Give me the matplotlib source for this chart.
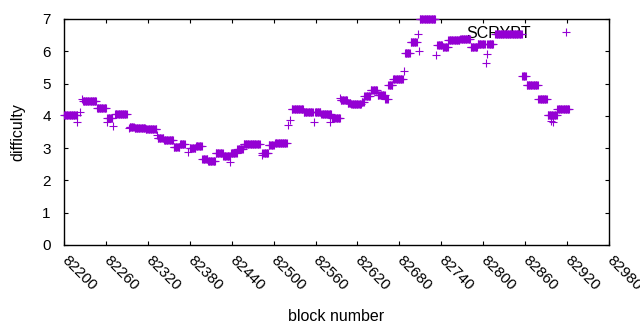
import numpy as np
import matplotlib
matplotlib.use("Agg")
import matplotlib.pyplot as plt
import matplotlib.transforms as mtransforms

plt.rcParams['font.family'] = ['Liberation Sans', 'DejaVu Sans']

# Runs of constant difficulty (first block, last block, difficulty)
run_start = [82200, 82227, 82247, 82262, 82273, 82294, 82301, 82317, 82334, 82343,
             82357, 82366, 82380, 82389, 82398, 82406, 82417, 82428, 82439, 82448,
             82457, 82484, 82493, 82502, 82526, 82543, 82559, 82568, 82583, 82596,
             82606, 82611, 82626, 82630, 82639, 82649, 82660, 82664, 82671, 82688,
             82696, 82709, 82734, 82742, 82750, 82767, 82782, 82792, 82806, 82817,
             82856, 82862, 82879, 82892, 82906]
run_end = [82219, 82246, 82260, 82269, 82290, 82300, 82316, 82332, 82342, 82356,
           82365, 82373, 82388, 82397, 82405, 82416, 82427, 82437, 82447, 82456,
           82480, 82492, 82500, 82519, 82542, 82556, 82567, 82582, 82595, 82605,
           82610, 82625, 82629, 82638, 82648, 82659, 82663, 82670, 82685, 82695,
           82705, 82731, 82741, 82749, 82766, 82781, 82791, 82802, 82814, 82855,
           82861, 82878, 82891, 82905, 82923]
run_value = [4.03, 4.46, 4.24, 3.93, 4.05, 3.66, 3.62, 3.58, 3.32, 3.25,
             3.03, 3.13, 3.00, 3.08, 2.66, 2.60, 2.84, 2.76, 2.86, 2.96,
             3.13, 2.84, 3.10, 3.15, 4.20, 4.11, 4.11, 4.05, 3.92, 4.49,
             4.40, 4.36, 4.44, 4.60, 4.80, 4.65, 4.52, 4.95, 5.13, 5.95,
             6.28, 7.00, 6.19, 6.14, 6.35, 6.38, 6.12, 6.22, 6.24, 6.53,
             5.25, 4.96, 4.51, 4.02, 4.20]

# Isolated blocks
pt_block = [82219, 82223, 82226, 82261, 82270, 82293, 82333, 82377, 82438, 82483,
            82521, 82523, 82558, 82581, 82595, 82687, 82707, 82708, 82733, 82804,
            82805, 82897, 82900]
pt_value = [3.81, 4.12, 4.52, 3.81, 3.69, 3.62, 3.40, 2.88, 2.58, 2.79,
            3.72, 3.87, 3.80, 3.81, 4.54, 5.40, 6.52, 6.00, 5.88, 5.63,
            5.91, 3.85, 3.80]

xticks = list(range(82200, 82981, 60))

blocks = []
values = []
for s, e, v in zip(run_start, run_end, run_value):
    for b in range(s, e + 1):
        blocks.append(b)
        values.append(v)
blocks += pt_block
values += pt_value

color = '#9400D3'
fig = plt.figure(figsize=(6.4, 3.3), dpi=100)
ax = fig.add_axes([64/640, 85/330, 545/640, 226/330])
ax.plot(blocks, values, linestyle='none', marker='+', markersize=5.2,
        markeredgewidth=0.8, color=color, label='SCRYPT', clip_on=False,
        zorder=3)
ax.set_xlim(82200, 82980)
ax.set_ylim(0, 7)
ax.set_xticks(xticks)
ax.set_yticks(range(0, 8))
ax.tick_params(direction='in', length=3.2, width=0.8, top=True, right=True,
               labelsize=11, colors='black')
ax.tick_params(axis='y', pad=9.5)
ax.tick_params(axis='x', pad=6)
offset = mtransforms.ScaledTranslation(5/100, 0, fig.dpi_scale_trans)
for lbl in ax.get_xticklabels():
    lbl.set_rotation(-45)
    lbl.set_ha('left')
    lbl.set_va('top')
    lbl.set_rotation_mode('anchor')
    lbl.set_transform(lbl.get_transform() + offset)
for sp in ax.spines.values():
    sp.set_linewidth(1.0)
ax.set_xlabel('block number', fontsize=11.5, labelpad=11)
ax.set_ylabel('difficulty', fontsize=11.5, labelpad=12)
leg = ax.legend(loc='upper right', bbox_to_anchor=(0.951, 0.97), markerfirst=False,
                frameon=False, fontsize=11.5, handlelength=2.0, handletextpad=1.2,
                borderaxespad=0, borderpad=0, numpoints=1)
leg.set_zorder(1)
fig.savefig('out.png', dpi=100)
